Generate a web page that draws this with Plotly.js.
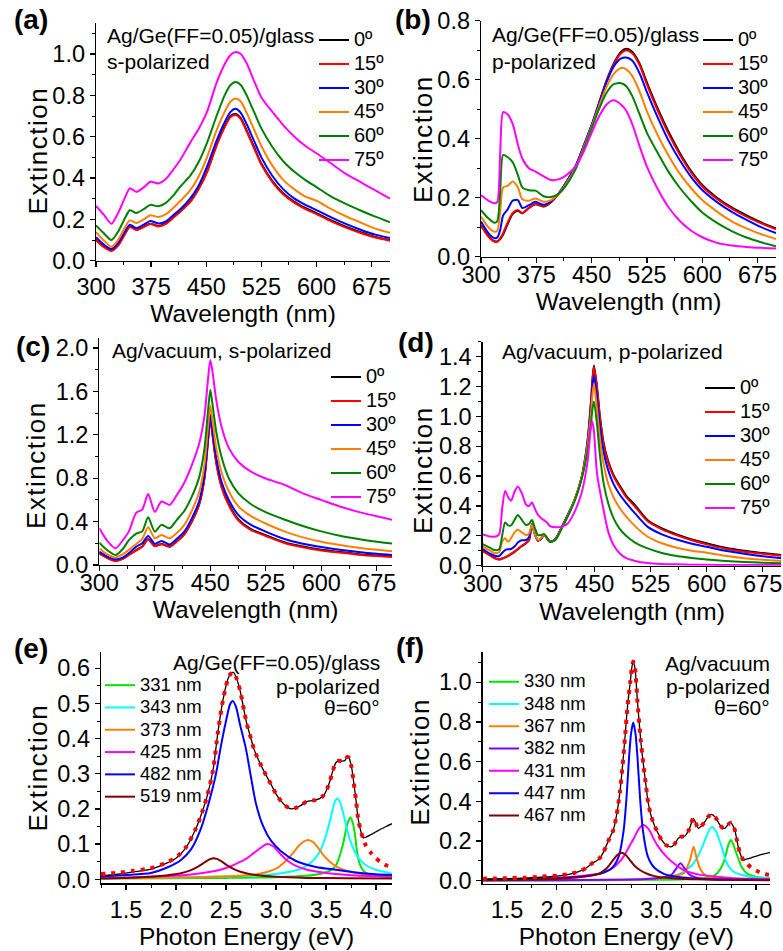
<!DOCTYPE html>
<html><head><meta charset="utf-8">
<script src="https://cdn.plot.ly/plotly-3.0.1.min.js"></script>
<style>html,body{margin:0;padding:0;background:#fff}#chart{width:783px;height:951px}</style>
</head><body><div id="chart"></div>
<script>
// ---------------- DATA ----------------
// (a) Ag/Ge(FF=0.05)/glass, s-polarized
const WL_A = [300,310,321,330,340,346,355,365,374,385,395,405,415,428,440,451,464,475,483,490,497,505,515,525,540,555,570,585,600,620,640,660,680,700];
const A_0  = [0.102,0.07,0.049,0.075,0.135,0.165,0.15,0.165,0.179,0.168,0.18,0.21,0.24,0.285,0.35,0.43,0.56,0.65,0.70,0.71,0.69,0.63,0.55,0.47,0.385,0.325,0.285,0.255,0.23,0.195,0.165,0.138,0.115,0.10];
const A_15 = [0.10,0.068,0.047,0.073,0.132,0.163,0.148,0.163,0.177,0.166,0.178,0.208,0.238,0.283,0.348,0.428,0.556,0.645,0.695,0.705,0.685,0.625,0.545,0.465,0.38,0.32,0.28,0.25,0.225,0.19,0.16,0.134,0.112,0.097];
const A_30 = [0.114,0.08,0.057,0.085,0.145,0.174,0.158,0.175,0.192,0.18,0.19,0.22,0.25,0.30,0.365,0.455,0.58,0.67,0.72,0.735,0.715,0.66,0.58,0.50,0.41,0.345,0.30,0.27,0.245,0.21,0.178,0.15,0.126,0.11];
const A_45 = [0.138,0.10,0.068,0.10,0.165,0.195,0.182,0.20,0.22,0.211,0.225,0.255,0.29,0.34,0.41,0.50,0.63,0.72,0.77,0.785,0.77,0.715,0.635,0.555,0.46,0.39,0.345,0.31,0.29,0.25,0.215,0.185,0.155,0.135];
const A_60 = [0.171,0.135,0.10,0.14,0.21,0.244,0.231,0.25,0.27,0.263,0.28,0.315,0.36,0.41,0.48,0.57,0.70,0.80,0.85,0.865,0.85,0.80,0.72,0.64,0.55,0.48,0.43,0.39,0.356,0.31,0.275,0.243,0.213,0.186];
const A_75 = [0.265,0.225,0.179,0.23,0.31,0.35,0.333,0.355,0.382,0.374,0.395,0.44,0.49,0.57,0.64,0.72,0.86,0.95,0.995,1.01,1.0,0.955,0.87,0.79,0.72,0.655,0.60,0.555,0.52,0.47,0.42,0.38,0.34,0.30];

// (b) Ag/Ge(FF=0.05)/glass, p-polarized
const WL_B = [300,310,318,322,326,330,336,343,350,356,365,374,385,395,405,415,428,440,450,460,470,480,490,497,505,515,525,540,555,570,585,600,620,640,660,680,700];
const B_0  = [0.107,0.07,0.053,0.052,0.06,0.075,0.11,0.145,0.156,0.147,0.165,0.178,0.17,0.185,0.213,0.25,0.305,0.38,0.445,0.52,0.595,0.655,0.695,0.705,0.695,0.655,0.59,0.50,0.42,0.35,0.29,0.243,0.2,0.167,0.14,0.116,0.096];
const B_15 = [0.105,0.068,0.051,0.05,0.062,0.08,0.115,0.148,0.158,0.148,0.166,0.179,0.171,0.186,0.213,0.25,0.305,0.38,0.445,0.52,0.594,0.652,0.69,0.70,0.69,0.65,0.583,0.493,0.413,0.344,0.285,0.238,0.196,0.163,0.136,0.113,0.093];
const B_30 = [0.119,0.08,0.063,0.065,0.09,0.14,0.16,0.19,0.192,0.165,0.175,0.186,0.176,0.188,0.214,0.25,0.305,0.38,0.445,0.52,0.59,0.645,0.672,0.675,0.665,0.622,0.558,0.47,0.39,0.325,0.27,0.226,0.185,0.152,0.125,0.1,0.08];
const B_45 = [0.136,0.10,0.085,0.087,0.15,0.235,0.24,0.255,0.235,0.195,0.19,0.197,0.186,0.192,0.212,0.245,0.30,0.375,0.44,0.51,0.575,0.62,0.64,0.635,0.613,0.56,0.493,0.41,0.34,0.28,0.232,0.192,0.153,0.12,0.096,0.076,0.06];
const B_60 = [0.158,0.13,0.115,0.12,0.22,0.345,0.338,0.32,0.277,0.235,0.225,0.224,0.205,0.202,0.213,0.24,0.295,0.37,0.435,0.50,0.555,0.585,0.588,0.578,0.545,0.483,0.42,0.35,0.285,0.232,0.188,0.15,0.115,0.087,0.065,0.049,0.035];
const B_75 = [0.209,0.19,0.181,0.185,0.35,0.49,0.483,0.45,0.38,0.333,0.30,0.288,0.272,0.26,0.262,0.275,0.305,0.36,0.42,0.475,0.515,0.53,0.515,0.495,0.45,0.375,0.305,0.228,0.165,0.12,0.088,0.066,0.047,0.038,0.033,0.03,0.028];

// (c) Ag/vacuum, s-polarized
const WL_C = [300,310,322,332,340,350,358,366,375,384,395,404,415,425,435,442,447,450,453,458,465,475,488,505,524,550,575,600,625,650,675,700];
const C_0  = [0.108,0.07,0.04,0.06,0.095,0.138,0.17,0.237,0.175,0.194,0.17,0.215,0.285,0.40,0.56,0.80,1.15,1.35,1.2,0.95,0.73,0.56,0.42,0.33,0.277,0.21,0.17,0.14,0.12,0.10,0.088,0.077];
const C_15 = [0.105,0.067,0.038,0.058,0.092,0.135,0.168,0.235,0.173,0.192,0.168,0.213,0.283,0.40,0.56,0.79,1.16,1.36,1.2,0.94,0.72,0.55,0.41,0.322,0.27,0.203,0.163,0.134,0.114,0.095,0.082,0.072];
const C_30 = [0.123,0.08,0.052,0.07,0.11,0.17,0.20,0.268,0.194,0.222,0.19,0.237,0.31,0.43,0.59,0.83,1.19,1.385,1.24,0.99,0.77,0.60,0.46,0.37,0.31,0.24,0.195,0.165,0.14,0.12,0.103,0.09];
const C_45 = [0.154,0.10,0.07,0.10,0.14,0.194,0.24,0.348,0.246,0.277,0.246,0.29,0.37,0.50,0.67,0.92,1.28,1.47,1.33,1.08,0.86,0.68,0.54,0.45,0.385,0.31,0.255,0.215,0.185,0.16,0.14,0.123];
const C_60 = [0.206,0.14,0.092,0.15,0.23,0.29,0.31,0.44,0.307,0.37,0.338,0.41,0.50,0.63,0.81,1.07,1.43,1.615,1.48,1.23,1.0,0.80,0.66,0.56,0.49,0.42,0.36,0.31,0.27,0.24,0.215,0.195];
const C_75 = [0.338,0.23,0.154,0.23,0.31,0.483,0.51,0.655,0.49,0.585,0.554,0.637,0.76,0.92,1.12,1.37,1.72,1.89,1.78,1.52,1.28,1.08,0.95,0.86,0.80,0.74,0.66,0.60,0.54,0.49,0.45,0.41];

// (d) Ag/vacuum, p-polarized
const WL_D = [300,310,316,322,326,330,334,338,343,347,352,358,362,366,370,374,378,382,386,390,397,405,414,423,432,440,445,447,449,453,457,462,468,475,483,492,504,521,540,560,580,600,625,650,675,700];
const D_0  = [0.10,0.07,0.052,0.042,0.048,0.056,0.065,0.078,0.094,0.11,0.13,0.15,0.17,0.28,0.21,0.167,0.18,0.205,0.185,0.16,0.175,0.25,0.34,0.44,0.58,0.82,1.1,1.25,1.34,1.2,1.0,0.82,0.7,0.61,0.54,0.47,0.405,0.305,0.25,0.21,0.176,0.15,0.12,0.10,0.085,0.071];
const D_15 = [0.098,0.068,0.05,0.041,0.047,0.056,0.066,0.079,0.096,0.112,0.132,0.152,0.172,0.278,0.21,0.167,0.18,0.205,0.185,0.16,0.175,0.25,0.34,0.44,0.58,0.81,1.09,1.24,1.33,1.19,0.99,0.81,0.69,0.60,0.53,0.46,0.395,0.297,0.243,0.203,0.17,0.143,0.114,0.094,0.08,0.066];
const D_30 = [0.112,0.08,0.066,0.065,0.085,0.105,0.11,0.112,0.13,0.155,0.17,0.172,0.19,0.272,0.21,0.17,0.18,0.205,0.185,0.16,0.175,0.25,0.34,0.44,0.58,0.80,1.06,1.2,1.277,1.12,0.93,0.76,0.64,0.55,0.48,0.42,0.35,0.26,0.21,0.175,0.147,0.127,0.10,0.08,0.063,0.05];
const D_45 = [0.127,0.10,0.085,0.09,0.16,0.183,0.16,0.185,0.225,0.243,0.225,0.205,0.215,0.272,0.21,0.172,0.185,0.205,0.185,0.16,0.172,0.245,0.335,0.44,0.58,0.79,1.02,1.15,1.22,1.05,0.85,0.68,0.55,0.46,0.39,0.33,0.265,0.194,0.15,0.12,0.10,0.087,0.066,0.05,0.04,0.031];
const D_60 = [0.145,0.12,0.105,0.11,0.20,0.29,0.27,0.27,0.31,0.34,0.31,0.272,0.28,0.306,0.25,0.205,0.205,0.212,0.19,0.16,0.17,0.24,0.33,0.43,0.57,0.76,0.95,1.05,1.10,0.95,0.74,0.55,0.42,0.32,0.25,0.20,0.155,0.116,0.085,0.065,0.052,0.042,0.032,0.025,0.02,0.016];
const D_75 = [0.21,0.195,0.194,0.21,0.38,0.50,0.46,0.435,0.50,0.53,0.49,0.41,0.40,0.424,0.38,0.34,0.32,0.305,0.29,0.265,0.258,0.26,0.283,0.36,0.48,0.68,0.93,0.964,0.90,0.62,0.50,0.37,0.23,0.14,0.085,0.05,0.032,0.018,0.012,0.009,0.007,0.006,0.005,0.004,0.004,0.004];

// (e) Ag/Ge(FF=0.05)/glass, p-pol, 60 deg: peak components vs photon energy (eV)
const E331_X = [1.25,2.0,2.5,3.0,3.3,3.45,3.55,3.6,3.64,3.67,3.7,3.72,3.745,3.77,3.79,3.81,3.83,3.86,3.9,3.95,4.05,4.16];
const E331_Y = [0.002,0.003,0.004,0.006,0.01,0.016,0.026,0.04,0.069,0.1,0.14,0.163,0.176,0.158,0.126,0.08,0.05,0.03,0.018,0.013,0.008,0.006];
const E343_X = [1.25,2.0,2.5,2.8,3.0,3.15,3.25,3.35,3.42,3.47,3.52,3.56,3.59,3.613,3.64,3.67,3.7,3.74,3.79,3.84,3.9,4.0,4.16];
const E343_Y = [0.003,0.005,0.008,0.011,0.015,0.022,0.03,0.048,0.07,0.10,0.145,0.19,0.222,0.23,0.22,0.19,0.155,0.112,0.077,0.055,0.04,0.027,0.016];
const E373_X = [1.25,1.75,2.25,2.6,2.75,2.9,3.0,3.07,3.13,3.18,3.23,3.28,3.323,3.37,3.42,3.47,3.53,3.6,3.7,3.8,3.95,4.16];
const E373_Y = [0.003,0.004,0.006,0.009,0.012,0.02,0.03,0.045,0.062,0.078,0.096,0.108,0.112,0.106,0.09,0.07,0.052,0.037,0.025,0.018,0.012,0.008];
const E425_X = [1.25,1.6,1.9,2.1,2.25,2.4,2.5,2.6,2.7,2.78,2.85,2.91,2.97,3.05,3.12,3.2,3.3,3.45,3.6,3.8,4.0,4.16];
const E425_Y = [0.004,0.006,0.009,0.012,0.017,0.024,0.032,0.044,0.058,0.075,0.09,0.10,0.094,0.07,0.052,0.038,0.028,0.02,0.015,0.011,0.009,0.008];
const E482_X = [1.25,1.5,1.75,1.9,2.05,2.15,2.25,2.33,2.4,2.45,2.5,2.54,2.567,2.6,2.64,2.7,2.75,2.8,2.87,2.95,3.05,3.2,3.4,3.6,3.8,4.0,4.16];
const E482_Y = [0.008,0.012,0.018,0.032,0.055,0.085,0.145,0.22,0.30,0.38,0.45,0.497,0.507,0.49,0.44,0.37,0.29,0.215,0.152,0.11,0.08,0.052,0.035,0.027,0.019,0.014,0.012];
const E519_X = [1.25,1.6,1.9,2.05,2.15,2.22,2.28,2.33,2.37,2.41,2.46,2.52,2.6,2.7,2.8,3.0,3.3,3.7,4.16];
const E519_Y = [0.002,0.005,0.011,0.017,0.026,0.036,0.047,0.056,0.06,0.058,0.05,0.038,0.026,0.017,0.012,0.007,0.004,0.003,0.002];
const E_TOT_X = [1.25,1.4,1.57,1.74,1.9,2.0,2.1,2.2,2.26,2.31,2.37,2.42,2.47,2.52,2.55,2.575,2.6,2.64,2.68,2.71,2.74,2.78,2.84,2.9,2.95,3.0,3.05,3.1,3.15,3.2,3.25,3.3,3.34,3.39,3.44,3.48,3.51,3.54,3.57,3.6,3.63,3.66,3.69,3.71,3.73,3.755,3.775,3.8,3.82,3.845,3.87,3.9,3.95,4.0,4.05,4.1,4.16];
const E_TOT_Y = [0.01,0.014,0.021,0.028,0.045,0.06,0.09,0.145,0.19,0.235,0.31,0.42,0.51,0.57,0.585,0.588,0.575,0.538,0.48,0.44,0.41,0.37,0.33,0.296,0.27,0.243,0.222,0.208,0.20,0.203,0.21,0.22,0.223,0.225,0.23,0.24,0.256,0.28,0.31,0.332,0.337,0.336,0.338,0.347,0.345,0.32,0.28,0.225,0.175,0.14,0.118,0.12,0.127,0.135,0.143,0.15,0.158];
const E_FIT_Y = [0.015,0.018,0.024,0.031,0.047,0.062,0.091,0.145,0.19,0.235,0.31,0.42,0.51,0.57,0.585,0.588,0.575,0.538,0.48,0.44,0.41,0.37,0.33,0.296,0.27,0.243,0.222,0.208,0.20,0.203,0.21,0.22,0.223,0.225,0.23,0.24,0.256,0.28,0.31,0.332,0.337,0.336,0.338,0.347,0.345,0.32,0.28,0.225,0.175,0.14,0.117,0.095,0.075,0.06,0.048,0.04,0.035];

// (f) Ag/vacuum, p-pol, 60 deg
const F330_X = [1.256,2.5,3.0,3.3,3.45,3.53,3.57,3.61,3.654,3.68,3.704,3.725,3.747,3.77,3.79,3.81,3.854,3.9,3.94,4.0,4.14];
const F330_Y = [0.001,0.002,0.004,0.007,0.011,0.017,0.024,0.037,0.07,0.10,0.146,0.185,0.205,0.185,0.155,0.128,0.07,0.04,0.029,0.02,0.012];
const F348_X = [1.256,2.0,2.6,2.9,3.05,3.17,3.25,3.3,3.36,3.41,3.45,3.5,3.53,3.56,3.59,3.62,3.66,3.7,3.74,3.79,3.86,3.94,4.03,4.14];
const F348_Y = [0.002,0.003,0.005,0.009,0.014,0.024,0.038,0.054,0.08,0.117,0.16,0.22,0.255,0.272,0.255,0.22,0.16,0.095,0.062,0.04,0.028,0.02,0.015,0.012];
const F367_X = [1.256,2.0,2.6,3.0,3.15,3.23,3.28,3.31,3.34,3.373,3.4,3.43,3.47,3.52,3.6,3.75,4.14];
const F367_Y = [0.001,0.002,0.004,0.01,0.02,0.03,0.04,0.068,0.11,0.171,0.12,0.07,0.036,0.02,0.012,0.007,0.004];
const F382_X = [1.256,2.0,2.6,2.9,3.05,3.12,3.16,3.2,3.242,3.28,3.32,3.37,3.45,3.6,3.8,4.14];
const F382_Y = [0.001,0.002,0.004,0.008,0.015,0.022,0.034,0.062,0.087,0.064,0.036,0.02,0.011,0.006,0.004,0.002];
const F431_X = [1.256,1.7,2.0,2.2,2.35,2.45,2.53,2.6,2.67,2.73,2.77,2.81,2.84,2.868,2.9,2.94,2.97,3.02,3.1,3.18,3.27,3.35,3.44,3.6,3.77,3.95,4.14];
const F431_Y = [0.005,0.009,0.014,0.021,0.03,0.038,0.054,0.08,0.121,0.175,0.21,0.25,0.272,0.28,0.272,0.245,0.213,0.17,0.121,0.085,0.054,0.04,0.029,0.02,0.012,0.009,0.007];
const F447_X = [1.256,1.7,2.0,2.2,2.35,2.45,2.55,2.62,2.67,2.7,2.725,2.745,2.767,2.79,2.81,2.835,2.865,2.915,2.985,3.08,3.2,3.4,3.7,4.14];
const F447_Y = [0.004,0.008,0.012,0.018,0.027,0.037,0.062,0.12,0.25,0.42,0.62,0.74,0.797,0.74,0.62,0.42,0.25,0.12,0.062,0.033,0.02,0.01,0.006,0.004];
const F467_X = [1.256,1.7,2.0,2.2,2.33,2.43,2.5,2.56,2.61,2.65,2.69,2.73,2.78,2.83,2.9,2.97,3.1,3.3,3.6,4.14];
const F467_Y = [0.003,0.006,0.01,0.016,0.024,0.037,0.062,0.10,0.13,0.141,0.13,0.106,0.075,0.055,0.036,0.024,0.014,0.008,0.005,0.003];
const F_TOT_X = [1.256,1.5,1.684,1.85,2.018,2.12,2.219,2.3,2.353,2.4,2.433,2.47,2.5,2.53,2.567,2.6,2.634,2.66,2.684,2.71,2.737,2.755,2.768,2.785,2.81,2.84,2.868,2.895,2.918,2.95,2.985,3.02,3.052,3.1,3.152,3.19,3.219,3.25,3.286,3.33,3.37,3.395,3.42,3.45,3.486,3.52,3.553,3.59,3.637,3.665,3.687,3.72,3.747,3.77,3.787,3.805,3.821,3.845,3.871,3.9,3.95,4.005,4.06,4.14];
const F_TOT_Y = [0.007,0.01,0.012,0.017,0.024,0.032,0.045,0.065,0.087,0.10,0.115,0.145,0.18,0.215,0.255,0.33,0.45,0.58,0.72,0.88,1.0,1.08,1.104,1.07,0.90,0.72,0.59,0.48,0.39,0.32,0.272,0.235,0.205,0.178,0.171,0.19,0.213,0.222,0.225,0.26,0.314,0.29,0.264,0.275,0.297,0.322,0.334,0.32,0.281,0.266,0.264,0.283,0.292,0.275,0.255,0.21,0.171,0.13,0.104,0.108,0.115,0.124,0.132,0.141];
const F_FIT_Y = [0.01,0.012,0.015,0.02,0.026,0.033,0.045,0.065,0.087,0.10,0.115,0.145,0.18,0.215,0.255,0.33,0.45,0.58,0.72,0.88,1.0,1.08,1.104,1.07,0.90,0.72,0.59,0.48,0.39,0.32,0.272,0.235,0.205,0.178,0.171,0.19,0.213,0.222,0.225,0.26,0.314,0.29,0.264,0.275,0.297,0.322,0.334,0.32,0.281,0.266,0.264,0.283,0.292,0.275,0.255,0.21,0.171,0.13,0.104,0.09,0.066,0.05,0.037,0.028];

const ANGLE_LABELS = ['0º','15º','30º','45º','60º','75º'];
const E_LABELS = ['331 nm','343 nm','373 nm','425 nm','482 nm','519 nm'];
const F_LABELS = ['330 nm','348 nm','367 nm','382 nm','431 nm','447 nm','467 nm'];

// ---------------- STYLE / LAYOUT ----------------
const W = 783, H = 951;
const FONT = 'Liberation Sans, Arial, Helvetica, sans-serif';
const fx = p => p / W;
const fy = p => 1 - p / H;
const ANGLE_COLORS = ['#000000','#ff0000','#0000ff','#ff8000','#008000','#ff00ff'];
const E_COLORS = ['#00e600','#00ffff','#ff8000','#ff00ff','#0000ff','#800000'];
const F_COLORS = ['#00e600','#00ffff','#ff8000','#8000ff','#ff00ff','#0000ff','#800000'];

const traces = [];
function addAngle(wl, series, xa, ya, leg, txtPx) {
  series.forEach((ys, i) => traces.push({
    type: 'scatter', mode: 'lines', x: wl, y: ys, xaxis: xa, yaxis: ya, legend: leg,
    name: '<span style="font-size:' + txtPx + 'px">' + ANGLE_LABELS[i] + '</span>',
    line: {color: ANGLE_COLORS[i], width: 2, shape: 'spline', smoothing: 0.7},
    hoverinfo: 'skip'
  }));
}
addAngle(WL_A, [A_0, A_15, A_30, A_45, A_60, A_75], 'x', 'y', 'legend', 20);
addAngle(WL_B, [B_0, B_15, B_30, B_45, B_60, B_75], 'x2', 'y2', 'legend2', 20);
addAngle(WL_C, [C_0, C_15, C_30, C_45, C_60, C_75], 'x3', 'y3', 'legend3', 20);
addAngle(WL_D, [D_0, D_15, D_30, D_45, D_60, D_75], 'x4', 'y4', 'legend4', 20);

function addComponents(xs, ys, labels, colors, xa, ya, leg, txtPx) {
  xs.forEach((x, i) => traces.push({
    type: 'scatter', mode: 'lines', x: x, y: ys[i], xaxis: xa, yaxis: ya, legend: leg,
    name: '<span style="font-size:' + txtPx + 'px">' + labels[i] + '</span>',
    line: {color: colors[i], width: 2, shape: 'spline', smoothing: 0.7},
    hoverinfo: 'skip'
  }));
}
addComponents([E331_X,E343_X,E373_X,E425_X,E482_X,E519_X],[E331_Y,E343_Y,E373_Y,E425_Y,E482_Y,E519_Y], E_LABELS, E_COLORS, 'x5','y5','legend5',18.5);
traces.push({type:'scatter',mode:'lines',x:E_TOT_X,y:E_TOT_Y,xaxis:'x5',yaxis:'y5',showlegend:false,line:{color:'#000',width:1.3,shape:'spline',smoothing:0.7},hoverinfo:'skip'});
traces.push({type:'scatter',mode:'lines',x:E_TOT_X,y:E_FIT_Y,xaxis:'x5',yaxis:'y5',showlegend:false,line:{color:'#ff0000',width:4,dash:'4px,6px',shape:'spline',smoothing:0.7},hoverinfo:'skip'});
addComponents([F330_X,F348_X,F367_X,F382_X,F431_X,F447_X,F467_X],[F330_Y,F348_Y,F367_Y,F382_Y,F431_Y,F447_Y,F467_Y], F_LABELS, F_COLORS, 'x6','y6','legend6',18.5);
traces.push({type:'scatter',mode:'lines',x:F_TOT_X,y:F_TOT_Y,xaxis:'x6',yaxis:'y6',showlegend:false,line:{color:'#000',width:1.3,shape:'spline',smoothing:0.7},hoverinfo:'skip'});
traces.push({type:'scatter',mode:'lines',x:F_TOT_X,y:F_FIT_Y,xaxis:'x6',yaxis:'y6',showlegend:false,line:{color:'#ff0000',width:4,dash:'4px,6px',shape:'spline',smoothing:0.7},hoverinfo:'skip'});

const tickFont = {family: FONT, size: 23.5, color: '#000'};
const titleFont = {family: FONT, size: 24.5, color: '#000'};
function axBase() {
  return {showline:true, linecolor:'#000', linewidth:1.3, ticks:'outside', ticklen:5, tickwidth:1.3, tickcolor:'#000',
    showgrid:false, zeroline:false, fixedrange:true, automargin:false, tickfont: tickFont};
}
function xAx(l, r, range, anchor, tick0, dtick, mdtick, fmt, title, lblShift, standoff) {
  return Object.assign(axBase(), {domain:[fx(l), fx(r)], range: range, anchor: anchor,
    tickmode:'linear', tick0: tick0, dtick: dtick, tickformat: fmt, ticklabelstandoff: lblShift,
    minor:{tickmode:'linear', tick0: tick0, dtick: mdtick, ticks:'outside', ticklen:3, tickwidth:1, tickcolor:'#000', showgrid:false},
    title:{text: title, font: titleFont, standoff: standoff}});
}
function yAx(top, bottom, range, anchor, dtick, mdtick) {
  return Object.assign(axBase(), {domain:[fy(bottom), fy(top)], range: range, anchor: anchor,
    tickmode:'linear', tick0: 0, dtick: dtick, tickformat: '.1f',
    minor:{tickmode:'linear', tick0: 0, dtick: mdtick, ticks:'outside', ticklen:3, tickwidth:1, tickcolor:'#000', showgrid:false},
    title:{text:''}});
}
function leg(left, top, size) {
  return {x: fx(left), y: fy(top), xref:'paper', yref:'paper', xanchor:'left', yanchor:'top',
    bgcolor:'rgba(0,0,0,0)', borderwidth:0, itemwidth:30, tracegroupgap:0,
    font:{family: FONT, size: size, color:'#000'}, itemclick:false, itemdoubleclick:false};
}
function ann(text, xpx, ypx, xanchor, size, bold) {
  return {text: bold ? '<b>' + text + '</b>' : text, x: fx(xpx), y: fy(ypx), xref:'paper', yref:'paper',
    xanchor: xanchor, yanchor:'middle', showarrow:false, font:{family: FONT, size: size, color:'#000'}};
}
// vertical "Extinction" title for each panel's y axis
function yTitle(xpx, ypx) {
  return {text: '<span style="letter-spacing:1.5px">Extinction</span>', textangle: -90,
    x: fx(xpx), y: fy(ypx), xref:'paper', yref:'paper', xanchor:'center', yanchor:'middle',
    showarrow:false, font:{family: FONT, size: 26, color:'#000'}};
}

const layout = {
  width: W, height: H, margin:{l:0, r:0, t:0, b:0}, paper_bgcolor:'#fff', plot_bgcolor:'rgba(0,0,0,0)',
  font:{family: FONT, color:'#000'},
  xaxis:  xAx(96, 390, [300, 700], 'y', 300, 75, 37.5, 'd', 'Wavelength (nm)', -4.5, 0),
  yaxis:  yAx(23, 260.7, [0, 1.15], 'x', 0.2, 0.1),
  xaxis2: xAx(481, 776, [300, 700], 'y2', 300, 75, 37.5, 'd', 'Wavelength (nm)', -8, 0),
  yaxis2: yAx(20.7, 256.7, [0, 0.8], 'x2', 0.2, 0.1),
  xaxis3: xAx(99.3, 392, [300, 695.5], 'y3', 300, 75, 37.5, 'd', 'Wavelength (nm)', -9, 0),
  yaxis3: yAx(338.3, 565, [0, 2.09], 'x3', 0.4, 0.2),
  xaxis4: xAx(482.7, 781.4, [300, 700], 'y4', 300, 75, 37.5, 'd', 'Wavelength (nm)', -8, 6),
  yaxis4: yAx(341.7, 565.7, [0, 1.5], 'x4', 0.2, 0.1),
  xaxis5: xAx(101, 392, [1.25, 4.16], 'y5', 1.5, 0.5, 0.25, '.1f', 'Photon Energy (eV)', 0, 0),
  yaxis5: yAx(651.7, 883.3, [-0.0114, 0.647], 'x5', 0.1, 0.05),
  xaxis6: xAx(482.7, 770, [1.256, 4.14], 'y6', 1.5, 0.5, 0.25, '.1f', 'Photon Energy (eV)', -1, 0),
  yaxis6: yAx(651.7, 884, [-0.017, 1.154], 'x6', 0.2, 0.1),
  legend:  leg(314, 23, 16.15),
  legend2: leg(698, 23, 16.15),
  legend3: leg(326, 360, 16.15),
  legend4: leg(700, 371, 16.15),
  legend5: leg(100, 669, 14.85),
  legend6: leg(484, 665.5, 14.85),
  annotations: [
    yTitle(37.5, 151), yTitle(423.5, 139.5), yTitle(36, 465),
    yTitle(423, 470), yTitle(37.5, 768), yTitle(419.7, 762),
    ann('(a)', 12, 20, 'left', 28, true),
    ann('(b)', 393, 20, 'left', 28, true),
    ann('(c)', 14, 347, 'left', 28, true),
    ann('(d)', 396, 342, 'left', 28, true),
    ann('(e)', 12, 648, 'left', 28, true),
    ann('(f)', 394, 647, 'left', 28, true),
    ann('Ag/Ge(FF=0.05)/glass', 105, 36, 'left', 21, false),
    ann('s-polarized', 105, 61, 'left', 21, false),
    ann('Ag/Ge(FF=0.05)/glass', 490, 35, 'left', 21, false),
    ann('p-polarized', 490, 61, 'left', 21, false),
    ann('Ag/vacuum, s-polarized', 110, 351, 'left', 21, false),
    ann('Ag/vacuum, p-polarized', 500, 352, 'left', 21, false),
    ann('Ag/Ge(FF=0.05)/glass', 382, 662, 'right', 21, false),
    ann('p-polarized', 382, 686, 'right', 21, false),
    ann('θ=60°', 382, 707, 'right', 21, false),
    ann('Ag/vacuum', 772, 663, 'right', 21, false),
    ann('p-polarized', 772, 686, 'right', 21, false),
    ann('θ=60°', 772, 707, 'right', 21, false)
  ]
};

Plotly.newPlot('chart', traces, layout, {staticPlot: true, displayModeBar: false});
</script>
</body></html>
